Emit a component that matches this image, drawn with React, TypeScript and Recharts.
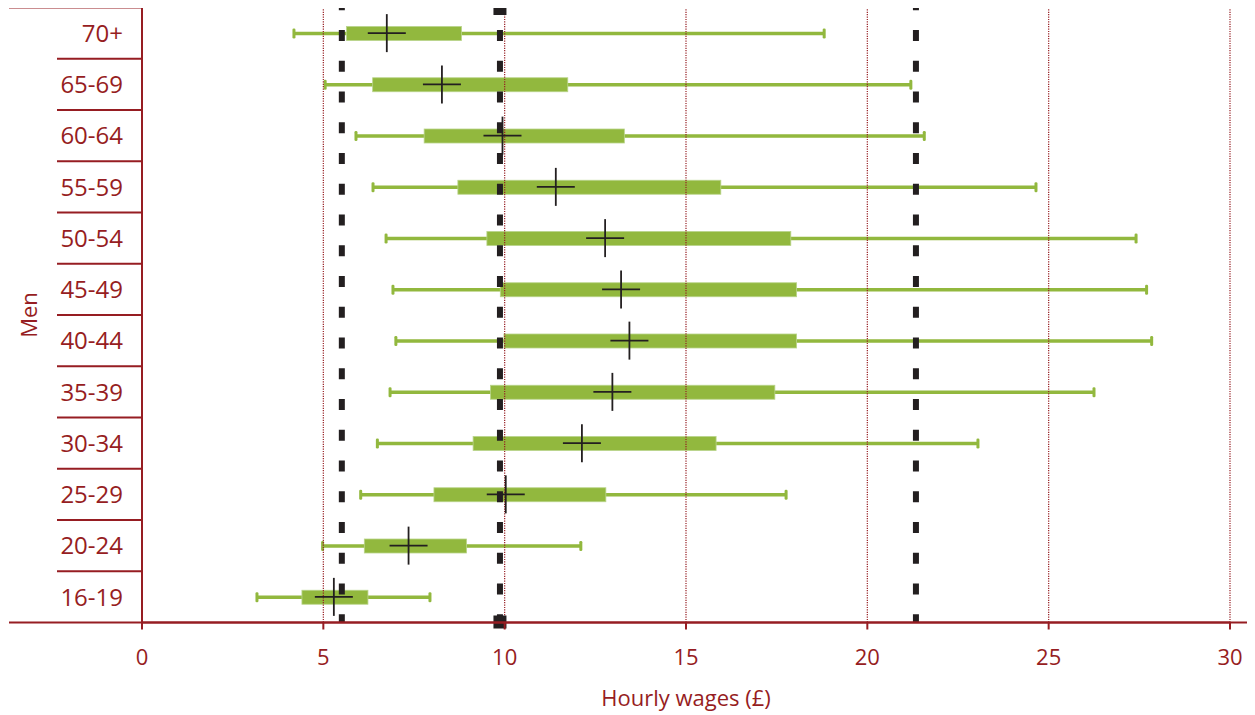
import React from 'react';
import { ComposedChart, Bar, Scatter, XAxis, YAxis, ReferenceLine } from 'recharts';

const categories = ['70+', '65-69', '60-64', '55-59', '50-54', '45-49', '40-44', '35-39', '30-34', '25-29', '20-24', '16-19'];
const minWage = [4.19, 5.05, 5.9, 6.37, 6.73, 6.92, 7.0, 6.84, 6.49, 6.03, 4.98, 3.17];
const q1Wage = [5.64, 6.36, 7.78, 8.71, 9.51, 9.88, 9.98, 9.61, 9.13, 8.05, 6.13, 4.41];
const medianWage = [6.75, 8.27, 9.94, 11.41, 12.77, 13.21, 13.44, 12.97, 12.13, 10.03, 7.35, 5.29];
const q3Wage = [8.81, 11.74, 13.3, 15.96, 17.89, 18.05, 18.05, 17.45, 15.83, 12.79, 8.95, 6.23];
const maxWage = [18.81, 21.2, 21.57, 24.65, 27.41, 27.7, 27.84, 26.25, 23.05, 17.76, 12.1, 7.94];

const xTicks = [0, 5, 10, 15, 20, 25, 30];
const gridValues = [5, 10, 15, 20, 25, 30];
const dashedLines = [5.51, 21.34];
const markedLine = 9.87;

const RED = '#961d22';
const GREEN = '#92b83e';
const BLACK = '#231f20';
const FONT = '"Open Sans", sans-serif';

const data = categories.map((cat, i) => ({
  cat,
  whisker: [minWage[i], maxWage[i]],
  box: [q1Wage[i], q3Wage[i]],
  median: medianWage[i],
}));

const WhiskerShape = (props: any) => {
  const { x, y, width, height } = props;
  const cy = y + height / 2;
  return (
    <g>
      <rect x={x} y={cy - 1.75} width={width} height={3.5} fill={GREEN} />
      <rect x={x - 1.5} y={cy - 5} width={3} height={10} rx={1.3} fill={GREEN} />
      <rect x={x + width - 1.5} y={cy - 5} width={3} height={10} rx={1.3} fill={GREEN} />
    </g>
  );
};

const BoxShape = (props: any) => {
  const { x, y, width, height } = props;
  return <rect x={x} y={y} width={width} height={height} fill={GREEN} stroke="#b9d48a" strokeWidth={0.8} />;
};

const CrossShape = (props: any) => {
  const { cx, cy } = props;
  return (
    <g stroke={BLACK} strokeWidth={1.8}>
      <line x1={cx - 19} y1={cy} x2={cx + 19} y2={cy} />
      <line x1={cx} y1={cy - 19} x2={cx} y2={cy + 19} />
    </g>
  );
};

const DashedShape = (marked: boolean) => (props: any) => {
  const { x1, y1, y2 } = props;
  const top = Math.min(y1, y2);
  const bottom = Math.max(y1, y2);
  return (
    <g>
      <line x1={x1} y1={top} x2={x1} y2={bottom} stroke={BLACK} strokeWidth={6} strokeDasharray="11 19.75" strokeDashoffset={8.25} />
      {marked && <rect x={x1 - 6.5} y={top - 5.5} width={13} height={13} fill={BLACK} />}
      {marked && <rect x={x1 - 6.5} y={bottom - 7} width={13} height={13} fill={BLACK} />}
    </g>
  );
};

const YTick = (props: any) => {
  const { x, y, payload, index } = props;
  const half = payload && payload.offset ? payload.offset : 25.625;
  const last = index === categories.length - 1;
  return (
    <g>
      <text x={x - 19} y={y} dy="0.36em" textAnchor="end" fill={RED} fontSize={24} fontFamily={FONT}>
        {payload.value}
      </text>
      <line x1={index === 0 ? 9 : x - 85} y1={y - half} x2={x} y2={y - half} stroke={RED} strokeWidth={2} />
      {last && <line x1={9} y1={y + half} x2={1255} y2={y + half} stroke={RED} strokeWidth={2} />}
    </g>
  );
};

const XTick = (props: any) => {
  const { x, y, payload } = props;
  return (
    <text x={x} y={y + 33} textAnchor="middle" fill={RED} fontSize={22} fontFamily={FONT}>
      {payload.value}
    </text>
  );
};

const MenLabel = (props: any) => {
  const vb = props.viewBox || { x: 0, y: 7.5, width: 142, height: 615 };
  const cx = vb.x + 29;
  const cy = vb.y + vb.height / 2;
  return (
    <text x={cx} y={cy} dy="0.36em" textAnchor="middle" fill={RED} fontSize={22} fontFamily={FONT} transform={`rotate(-90, ${cx}, ${cy})`}>
      Men
    </text>
  );
};

export default function App() {
  return (
    <div style={{ margin: '-8px 0 0 -8px', width: 1255, height: 715, background: '#fff' }}>
      <ComposedChart
        width={1255}
        height={715}
        data={data}
        layout="vertical"
        margin={{ top: 7.5, right: 25, bottom: 0, left: 0 }}
      >
        <XAxis
          type="number"
          domain={[0, 30]}
          ticks={xTicks}
          allowDataOverflow
          height={92.5}
          stroke={RED}
          axisLine={{ stroke: RED, strokeWidth: 2 }}
          tickLine={{ stroke: RED, strokeWidth: 2 }}
          tickSize={7}
          tick={<XTick />}
          label={{ value: 'Hourly wages (£)', position: 'insideBottom', offset: 9, fill: RED, fontSize: 22, fontFamily: FONT }}
        />
        <YAxis yAxisId="w" type="category" dataKey="cat" hide width={0} />
        <YAxis yAxisId="b" type="category" dataKey="cat" hide width={0} />
        <YAxis
          yAxisId="main"
          type="category"
          dataKey="cat"
          width={142}
          interval={0}
          axisLine={{ stroke: RED, strokeWidth: 2 }}
          tickLine={false}
          tickSize={0}
          tickMargin={0}
          tick={<YTick />}
          label={<MenLabel />}
        />
        <Bar yAxisId="w" dataKey="whisker" barSize={14} shape={<WhiskerShape />} isAnimationActive={false} />
        <Bar yAxisId="b" dataKey="box" barSize={14} shape={<BoxShape />} isAnimationActive={false} />
        {gridValues.map((v) => (
          <ReferenceLine key={v} yAxisId="main" x={v} stroke={RED} strokeWidth={1.2} strokeDasharray="1.2 1.2" />
        ))}
        {dashedLines.map((v) => (
          <ReferenceLine key={v} yAxisId="main" x={v} shape={DashedShape(false)} />
        ))}
        <ReferenceLine yAxisId="main" x={markedLine} shape={DashedShape(true)} />
        <Scatter yAxisId="main" dataKey="median" shape={<CrossShape />} isAnimationActive={false} />
      </ComposedChart>
    </div>
  );
}
